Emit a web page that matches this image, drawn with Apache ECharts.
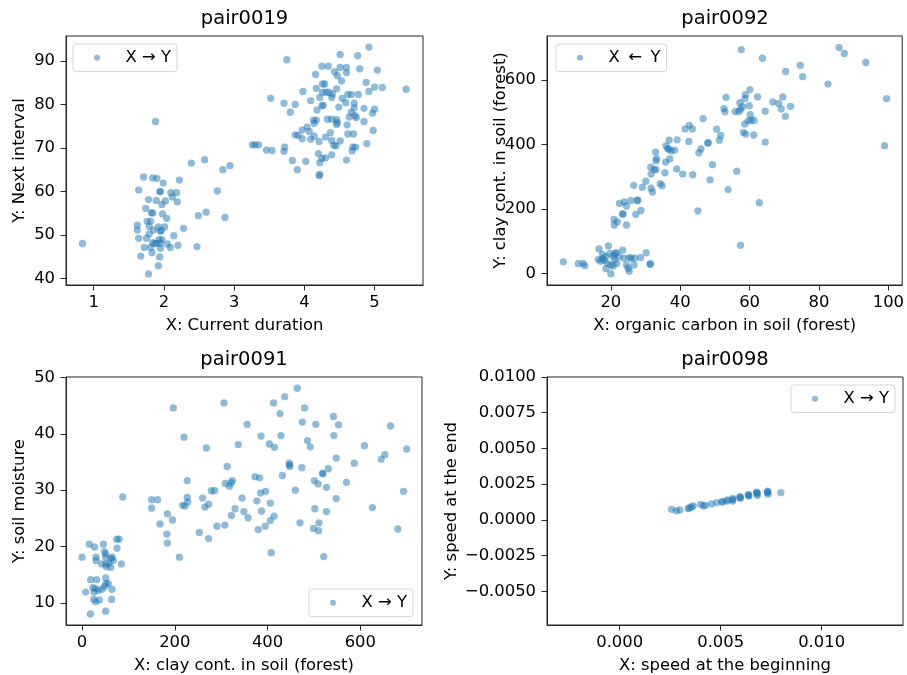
<!DOCTYPE html>
<html>
<head>
<meta charset="utf-8">
<script src="https://cdn.jsdelivr.net/npm/echarts@6/dist/echarts.min.js"></script>
<style>
  html, body { margin: 0; background: #fff; }
  #chart { width: 907px; height: 675px; }
</style>
</head>
<body>
<div id="chart"></div>
<script>
// point clouds, [x, y]
var pair0019 = [
  [0.84,48.0],[1.88,76.1],[3.75,90.3],[4.92,93.2],[5.45,83.5],
  [1.64,60.3],[1.71,63.3],[1.84,63.1],[1.90,63.0],[1.99,61.9],[1.94,59.9],[1.95,60.0],[2.10,59.7],[2.18,59.7],[2.22,62.6],
  [1.78,58.1],[1.89,57.9],[2.02,57.8],[2.12,58.7],[2.19,57.6],[1.97,57.0],[1.74,56.1],[1.82,55.1],[1.84,55.0],[1.98,54.8],
  [2.04,53.8],[1.76,53.1],[1.81,53.1],[1.62,52.2],[1.62,51.1],[1.79,51.9],[1.92,51.8],[1.85,51.1],[1.96,51.0],[2.01,51.8],
  [1.95,50.8],[1.79,50.2],[1.64,49.2],[1.75,49.2],[1.84,48.2],[1.87,48.0],[1.90,48.0],[1.93,48.9],[1.97,48.9],[1.95,48.0],
  [2.05,47.9],[2.09,47.1],[2.20,47.6],[2.14,49.8],[2.28,51.5],[1.72,47.1],[1.81,47.1],[1.95,46.9],[1.83,45.9],[1.94,44.9],
  [1.67,45.1],[1.92,42.9],[1.78,41.0],
  [2.47,47.3],[2.49,54.4],[2.60,55.2],[2.87,54.0],[2.76,60.1],[2.39,66.5],[2.58,67.3],[2.84,65.0],[2.94,65.9],
  [3.26,70.7],[3.30,70.7],[3.35,70.7],[3.46,69.5],[3.54,69.4],[3.71,69.2],[3.72,70.2],[3.52,81.4],[3.71,80.3],[3.80,78.2],
  [3.87,80.0],[3.98,83.0],[4.09,80.9],[4.16,86.9],[4.25,88.8],[4.34,88.8],[4.43,87.5],[4.51,91.5],[4.51,88.5],[4.60,88.5],
  [4.60,87.3],[4.76,91.2],[4.79,88.2],[5.04,87.9],[4.47,86.6],[4.53,85.4],[4.26,84.7],[4.29,84.7],[4.17,83.7],[4.46,83.6],
  [4.40,82.4],[4.26,82.8],[4.31,82.8],[4.35,82.8],[4.22,81.6],[4.39,81.6],[4.54,81.4],[4.62,82.3],[4.67,82.3],[4.77,82.3],
  [4.88,85.1],[5.00,84.0],[5.11,83.9],[4.92,83.0],[4.59,80.4],[4.71,80.3],[4.49,79.4],[4.25,79.7],[4.27,79.8],[4.18,78.7],
  [4.71,79.2],[4.85,79.1],[5.00,78.9],[4.97,78.0],[4.67,78.2],[4.72,77.4],[4.74,77.0],[4.64,77.1],[4.13,76.4],[4.17,76.4],
  [4.14,75.7],[4.33,76.6],[4.39,76.6],[4.46,76.5],[4.46,75.4],[4.47,75.8],[4.85,76.1],[4.61,75.3],[4.04,74.8],[4.07,73.8],
  [3.97,74.1],[3.87,73.0],[3.91,72.9],[3.97,72.1],[4.09,72.0],[4.14,72.7],[4.21,71.5],[4.30,72.5],[4.37,73.5],[4.39,71.7],
  [4.51,71.6],[4.42,70.6],[4.45,70.5],[4.62,73.2],[4.70,73.2],[4.98,74.0],[4.69,70.2],[4.73,70.2],[4.68,69.3],[4.89,71.0],
  [4.20,68.7],[4.25,67.6],[4.30,67.7],[4.39,68.4],[4.22,66.6],[4.60,67.2],[3.83,67.1],[4.02,66.9],[3.90,65.0],[4.21,63.6],
  [4.22,63.9]
];

var pair0092 = [
  [6.3,37],[10.6,31],[12.0,32],[12.5,25],[16.6,77],[19.3,86],[16.4,44],[17.6,47],[18.6,53],[18.1,42],[17.1,39],[19.0,32],
  [18.6,16],[20.0,0],[20.0,27],[20.7,24],[21.2,63],[20.7,55],[21.7,32],[21.1,44],[23.4,73],[23.8,48],[24.5,27],[25.3,8],
  [25.0,17],[25.3,50],[26.7,27],[26.9,48],[25.9,48],[28.6,50],[30.2,65],[31.3,29],[31.4,31],[22.4,53],[19.7,63],[21.6,65],
  [17.6,60],
  [21.0,151],[20.9,168],[21.9,161],[23.4,184],[23.5,186],[24.5,151],[22.5,218],[23.9,223],[24.5,210],[25.8,227],[27.6,227],
  [27.8,228],[27.2,184],[28.7,196],[26.6,274],[29.1,268],[30.1,287],[31.5,330],[31.6,265],[32.0,253],[32.5,323],[33.0,323],
  [31.6,309],[33.0,350],[33.2,357],[32.9,377],[34.2,279],[34.8,273],[35.6,313],[35.8,346],[35.9,396],[36.4,388],[36.7,386],
  [37.0,356],[36.8,414],[37.4,381],[38.4,383],[39.0,325],[39.1,415],[40.7,309],[41.4,449],[42.6,460],[43.5,449],[42.5,410],
  [43.6,307],[45.1,195],[45.4,375],[46.0,387],[46.6,481],[47.9,405],[48.1,406],[48.6,291],[49.3,338],[50.5,448],[51.3,414],
  [51.7,429],[52.6,512],[52.9,502],[53.2,547],[53.8,261],[55.9,503],[56.3,318],[56.9,503],[57.2,530],[57.4,510],[57.6,695],
  [57.4,88],[58.0,518],[58.2,438],[58.6,464],[58.7,543],[58.8,555],[58.9,433],[59.9,521],[60.1,571],[60.2,493],[59.6,474],
  [60.4,476],[61.3,475],[61.2,430],[62.3,548],[62.8,220],[63.7,668],[64.5,504],[64.5,408],[66.7,532],[68.4,528],[69.1,511],
  [69.6,548],[70.3,488],[70.4,627],[71.8,519],[74.6,646],[75.3,611],[82.6,588],[85.8,701],[87.3,683],[93.5,655],[99.5,543],
  [98.9,397]
];

var pair0091 = [
  [0,18.1],[15.8,20.4],[27.3,19.9],[30.2,18.1],[30.2,17.5],[46,20.4],[48.2,19.1],[51.1,18.7],[51.1,18.1],[62.6,17.9],
  [65,18.1],[74.8,21.3],[79.9,21.3],[75.5,19.7],[87.8,28.8],[84.9,16.9],[67.6,17.5],[42.4,16.9],[51.1,16.9],[58.3,17.0],
  [62,16.3],[52.5,16.4],[18.7,14.1],[31.7,14.1],[51.1,14.4],[51.8,13.4],[23.7,12.7],[28.8,12.5],[35.3,12.2],[43.2,12.4],
  [48.9,12.9],[56.8,13.4],[64.7,12.4],[7.9,11.9],[25.2,10.6],[29.5,10.2],[37.4,10.5],[64,10.6],[51.1,8.5],[18,8.0],[25.9,11.9],
  [197,44.6],[306,45.5],[220,39.4],[268,37.5],[150,28.3],[150,26.8],[163,28.3],[168,24.0],[184,25.8],[195,24.7],[183,22.2],
  [184,20.6],[210,18.1],[227,31.7],[217,27.3],[222,27.2],[227,28.7],[228,27.9],[253,22.5],[260,28.6],[265,27.0],[273,27.5],
  [273,21.4],[279,29.9],[286,29.9],[291,23.6],[308,23.8],[309,31.2],[313,34.2],[318,30.7],[322,31.3],[324,31.7],[322,25.5],
  [330,26.7],[337,38.1],[345,28.6],[349,26.2],[356,41.7],[358,25.1],[373,32.4],[377,28.1],[383,32.2],[385,29.5],[386,39.6],
  [380,23.0],[387,26.3],[395,23.6],[396,29.8],[404,38.2],[406,27.7],[406,24.6],[408,18.9],[413,45.5],[414,25.4],[415,37.6],
  [427,43.6],[429,39.7],[432,32.6],[437,46.6],[447,34.5],[448,34.2],[460,30.0],[464,48.1],[470,24.2],[474,34.0],[475,42.1],
  [480,44.6],[486,38.8],[492,37.7],[499,23.2],[502,26.7],[504,41.7],[501,31.7],[509,31.1],[511,24.2],[510,22.8],[519,32.9],
  [521,18.2],[527,26.2],[527,30.5],[531,33.8],[542,43.1],[543,39.7],[548,35.7],[548,28.5],[553,41.6],[570,31.4],[587,34.8],
  [609,37.9],[626,26.9],[645,35.5],[653,36.3],[665,41.4],[681,23.1],[693,29.8],[700,37.3],[519,33.0],[447,34.8]
];

var pair0098 = [
  [0.00257,0.00074],[0.00281,0.00063],[0.00298,0.00069],[0.00339,0.00079],[0.00345,0.00083],[0.00356,0.00090],
  [0.00364,0.00097],[0.00401,0.00109],[0.00414,0.00097],[0.00425,0.00102],[0.00455,0.00111],[0.00480,0.00121],
  [0.00505,0.00125],[0.00510,0.00128],[0.00530,0.00132],[0.00535,0.00140],[0.00560,0.00150],[0.00560,0.00132],
  [0.00560,0.00141],[0.00596,0.00162],[0.00598,0.00152],[0.00596,0.00157],[0.00637,0.00178],[0.00640,0.00167],
  [0.00638,0.00172],[0.00679,0.00194],[0.00680,0.00183],[0.00682,0.00172],[0.00679,0.00189],[0.00732,0.00201],
  [0.00732,0.00190],[0.00735,0.00180],[0.00733,0.00196],[0.00798,0.00190]
];

// tick values and their labels
var ticks19x = [1, 2, 3, 4, 5],            labels19x = ['1', '2', '3', '4', '5'];
var ticks19y = [40, 50, 60, 70, 80, 90],   labels19y = ['40', '50', '60', '70', '80', '90'];
var ticks92x = [20, 40, 60, 80, 100],      labels92x = ['20', '40', '60', '80', '100'];
var ticks92y = [0, 200, 400, 600],         labels92y = ['0', '200', '400', '600'];
var ticks91x = [0, 200, 400, 600],         labels91x = ['0', '200', '400', '600'];
var ticks91y = [10, 20, 30, 40, 50],       labels91y = ['10', '20', '30', '40', '50'];
var ticks98x = [0, 0.005, 0.01],           labels98x = ['0.000', '0.005', '0.010'];
var ticks98y = [-0.005, -0.0025, 0, 0.0025, 0.005, 0.0075, 0.01];
var labels98y = ['\u22120.0050', '\u22120.0025', '0.0000', '0.0025', '0.0050', '0.0075', '0.0100'];

var legendLabels = {
  pair0019: 'X \u2192 Y',
  pair0092: 'X\u2009 \u2190 \u2009Y',
  pair0091: 'X \u2192 Y',
  pair0098: 'X \u2192 Y'
};

var FONT = 'DejaVu Sans';
var FS = 16.4;
var BLUE = '#1f77b4';
var INK = '#262626';

var chart = echarts.init(document.getElementById('chart'), null, { renderer: 'canvas' });

function pick(ticks, labels) {
  return function (v) {
    var best = 0;
    for (var i = 1; i < ticks.length; i++) {
      if (Math.abs(ticks[i] - v) < Math.abs(ticks[best] - v)) best = i;
    }
    return labels[best];
  };
}

function axis(grid, name, min, max, ticks, labels, gap, margin) {
  return {
    type: 'value',
    gridIndex: grid,
    min: min,
    max: max,
    name: name,
    nameLocation: 'middle',
    nameGap: gap,
    nameMoveOverlap: false,
    nameTextStyle: { color: '#000', fontSize: FS, fontFamily: FONT },
    splitLine: { show: false },
    axisLine: { show: true, onZero: false, lineStyle: { color: INK, width: 1 } },
    axisTick: { show: true, length: 5.5, customValues: ticks, lineStyle: { color: INK, width: 1 } },
    axisLabel: {
      customValues: ticks,
      formatter: pick(ticks, labels),
      color: '#000', fontSize: FS, fontFamily: FONT, margin: margin
    }
  };
}

function legend(seriesName, left, top) {
  return {
    data: [seriesName],
    left: left,
    top: top,
    selectedMode: false,
    padding: [5.8, 6, 5.8, 21],
    itemWidth: 26.4,
    itemHeight: 6,
    icon: 'circle',
    itemStyle: { opacity: 0.5 },
    borderColor: '#d6d6d6',
    borderWidth: 1,
    borderRadius: 3,
    backgroundColor: 'rgba(255,255,255,0.8)',
    // two leading spaces give the wide gap between marker and text
    formatter: function (n) { return '  ' + legendLabels[n]; },
    textStyle: { color: '#000', fontSize: FS, fontFamily: FONT }
  };
}

function scatter(name, idx, data) {
  return {
    type: 'scatter',
    name: name,
    xAxisIndex: idx,
    yAxisIndex: idx,
    data: data,
    symbolSize: 7.3,
    silent: true,
    itemStyle: { color: BLUE, opacity: 0.5 }
  };
}

function titleText(text, x, y) {
  return {
    type: 'text', x: x, y: y, silent: true,
    style: {
      text: text, fill: '#000', font: '19.5px "' + FONT + '"',
      textAlign: 'center', textVerticalAlign: 'middle', align: 'center', verticalAlign: 'middle'
    }
  };
}

var option = {
  animation: false,
  backgroundColor: '#fff',
  grid: [
    { left: 66, top: 36, width: 357, height: 249, show: true, borderColor: INK, borderWidth: 1 },
    { left: 547, top: 36, width: 356, height: 249, show: true, borderColor: INK, borderWidth: 1 },
    { left: 66, top: 377, width: 356, height: 249, show: true, borderColor: INK, borderWidth: 1 },
    { left: 547, top: 377, width: 356, height: 250, show: true, borderColor: INK, borderWidth: 1 }
  ],
  xAxis: [
    axis(0, 'X: Current duration', 0.605, 5.69, ticks19x, labels19x, 33, 10),
    axis(1, 'X: organic carbon in soil (forest)', 1.6, 104.0, ticks92x, labels92x, 33, 10),
    axis(2, 'X: clay cont. in soil (forest)', -34.5, 733, ticks91x, labels91x, 33, 10),
    axis(3, 'X: speed at the beginning', -0.0036, 0.01403, ticks98x, labels98x, 33, 10)
  ],
  yAxis: [
    axis(0, 'Y: Next interval', 38.45, 95.75, ticks19y, labels19y, 38, 11),
    axis(1, 'Y: clay cont. in soil (forest)', -35, 737, ticks92y, labels92y, 38, 11),
    axis(2, 'Y: soil moisture', 6.05, 50.1, ticks91y, labels91y, 38, 11),
    axis(3, 'Y: speed at the end', -0.00736, 0.0100, ticks98y, labels98y, 87, 11)
  ],
  legend: [
    legend('pair0019', 73, 44),
    legend('pair0092', 556, 44),
    legend('pair0091', 309, 589),
    legend('pair0098', 791, 385)
  ],
  graphic: [
    titleText('pair0019', 244.5, 18.5),
    titleText('pair0092', 725, 18.5),
    titleText('pair0091', 244, 359.5),
    titleText('pair0098', 725, 359.5)
  ],
  series: [
    scatter('pair0019', 0, pair0019),
    scatter('pair0092', 1, pair0092),
    scatter('pair0091', 2, pair0091),
    scatter('pair0098', 3, pair0098)
  ]
};

chart.setOption(option);
</script>
</body>
</html>
